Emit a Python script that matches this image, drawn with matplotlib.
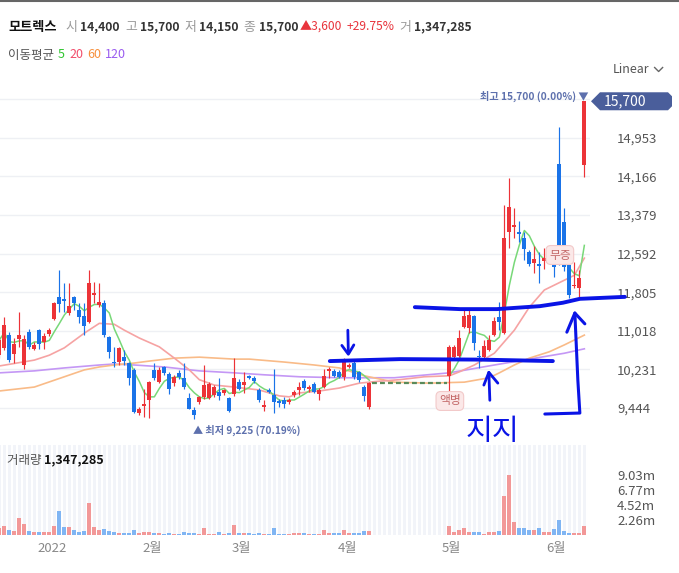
import numpy as np
import pandas as pd
import matplotlib
matplotlib.use("Agg")
import matplotlib.pyplot as plt
from matplotlib.patches import Polygon
from matplotlib.lines import Line2D
from matplotlib.transforms import IdentityTransform

plt.rcParams['font.family'] = ['Noto Sans CJK KR', 'DejaVu Sans']

# %% data (daily candles, trading halt in April shown as None)
name = "모트렉스"

opens = [10520, 10670, 10930, 10540, 10850, 10320, 10990, 10650, 11030, 10790,
         10950, 11260, 11700, 11660, 11380, 11700, 11440, 11320, 11200, 11740,
         11540, 11580, 10890, 10380, 10380, 10480, 10360, 10220, 9340, 9490,
         9610, 10220, 9970, 10280, 10140, 9950, 10160, 10060, 9650, 9410,
         9570, 9670, 9650, 9710, 9770, 9750, 9650, 9730, 9970, 9910,
         10100, 10060, 9810, 9470, 9810, 9710, 9590, 9610, 9570, 9710,
         9810, 9990, 9830, 9930, 9730, 9870, 10200, 10200, 10180, 10080,
         10280, 10360, 10180, 9870, 9470] + [None] * 15 + [
         10100, 10480, 10500, 11090, 11070, 11320, 10500, 10480, 10630, 10930,
         11300, 10970, 13030, 13130, 13030, 12920, 12620, 12400, 12380, 12440,
         12500, 12350, 14430, 13230, 12350, 11930, 11890, 14400]
highs = [10890, 11300, 10990, 10870, 11400, 10930, 11050, 10790, 11050, 10970,
         11070, 11600, 12250, 11990, 11990, 11720, 11580, 11580, 12250, 12010,
         11990, 11640, 10910, 10690, 10690, 10630, 10380, 10260, 9470, 9830,
         9990, 10360, 10280, 10300, 10180, 10120, 10220, 10360, 9750, 9470,
         9690, 10320, 9970, 9910, 10060, 9830, 9670, 10460, 10030, 10180,
         10120, 10100, 9850, 9610, 9850, 10240, 9630, 9670, 9650, 9810,
         9970, 10030, 9910, 9970, 9850, 10240, 10280, 10240, 10220, 10460,
         10360, 10400, 10200, 9910, 9970] + [None] * 15 + [
         10730, 10730, 11030, 11440, 11440, 11340, 10630, 10830, 10930, 11300,
         11600, 13580, 14140, 13530, 13250, 13030, 12660, 12740, 12620, 12700,
         12580, 12380, 15180, 13530, 12380, 12420, 12250, 15700]
lows = [10460, 10630, 10380, 10360, 10690, 10240, 10650, 10630, 10650, 10650,
        10910, 11240, 11400, 11400, 11340, 11440, 11170, 10930, 11170, 11580,
        11500, 10890, 10460, 10280, 10320, 10320, 9910, 9340, 9300, 9260,
        9240, 10010, 9950, 10120, 9730, 9890, 10030, 9830, 9420, 9225,
        9530, 9630, 9630, 9670, 9610, 9710, 9360, 9690, 9810, 9750,
        10030, 9950, 9570, 9390, 9750, 9340, 9470, 9450, 9530, 9670,
        9710, 9810, 9770, 9750, 9610, 9850, 10060, 10080, 10060, 10010,
        10260, 10030, 9970, 9590, 9430] + [None] * 15 + [
        9770, 10460, 10480, 11070, 10970, 10630, 10260, 10440, 10610, 10910,
        11030, 10950, 12700, 12920, 12820, 12460, 12330, 12190, 11990, 12270,
        12460, 12110, 12350, 12230, 11680, 11890, 11700, 14150]
closes = [10830, 11130, 10420, 10750, 10930, 10850, 10690, 10730, 10750, 10910,
          11030, 11580, 11560, 11620, 11520, 11580, 11300, 11110, 11990, 11790,
          11600, 10930, 10590, 10360, 10670, 10400, 10060, 9360, 9430, 9530,
          9970, 10060, 10220, 10160, 9830, 10080, 10080, 9870, 9430, 9300,
          9670, 9910, 9930, 9870, 9690, 9810, 9390, 10060, 9830, 9970,
          10060, 9990, 9610, 9510, 9770, 9570, 9550, 9530, 9610, 9770,
          9870, 9850, 9870, 9770, 9810, 10100, 10240, 10100, 10080, 10400,
          10320, 10080, 10010, 9690, 9950] + [None] * 15 + [
          10690, 10690, 10870, 11320, 11340, 10770, 10480, 10710, 10830, 11220,
          11200, 12920, 13550, 13170, 13000, 12680, 12380, 12480, 12330, 12500,
          12540, 12310, 12600, 12310, 11740, 11950, 12100, 15700]
# volume in millions of shares
volume_m = [1.0, 1.36, 0.75, 0.6, 2.5, 1.6, 0.6, 0.45, 0.45, 0.45, 0.45,
            1.36, 3.6, 1.15, 1.15, 0.75, 0.5, 0.6, 4.77, 1.15, 0.75,
            0.85, 0.55, 0.4, 0.25, 0.25, 0.25, 0.75, 0.25, 0.4, 0.4,
            0.25, 0.25, 0.15, 0.25, 0.15, 0.15, 0.45, 0.25, 0.25, 0.15,
            1.0, 0.15, 0.1, 0.4, 0.15, 0.25, 1.45, 0.25, 0.25, 0.25,
            0.15, 0.25, 0.15, 0.15, 1.0, 0.1, 0.1, 0.1, 0.25, 0.25,
            0.25, 0.15, 0.15, 0.15, 0.75, 0.25, 0.25, 0.25, 0.75, 0.25,
            0.25, 0.25, 0.6, 0.6] + [None] * 15 + [
            1.36, 0.45, 0.75, 1.0, 0.45, 0.45, 0.45, 0.15, 0.45, 0.45,
            0.6, 5.88, 9.03, 1.96, 1.0, 1.0, 0.75, 0.75, 1.0, 0.45,
            0.45, 0.9, 2.26, 0.6, 0.25, 0.25, 0.25, 1.347285]

# moving averages (index, price)
ma20_idx = [0, 7, 10, 13, 17, 20, 23, 25, 28, 32, 35, 38, 40, 43, 47, 52, 56, 58,
            60, 64, 68, 72, 76, 80, 85, 90, 92, 95, 99, 103, 106, 109, 113, 115, 117]
ma20_val = [10300, 10420, 10520, 10670, 10970, 11170, 11150, 11030, 10870, 10690,
            10460, 10220, 10020, 9910, 9870, 9810, 9690, 9670, 9750, 9790, 9850,
            9950, 9990, 10020, 10080, 10100, 10180, 10320, 10560, 11030, 11500,
            11850, 12050, 12150, 12500]
ma60_idx = [0, 7, 13, 17, 20, 23, 27, 30, 35, 40, 47, 50, 57, 63, 68, 73, 79, 86,
            93, 98, 100, 103, 106, 110, 113, 117]
ma60_val = [9790, 9870, 10080, 10220, 10280, 10320, 10360, 10400, 10460, 10480,
            10440, 10440, 10380, 10320, 10260, 10100, 9970, 9950, 9970, 10060,
            10160, 10320, 10460, 10590, 10730, 10930]
ma120_idx = [0, 7, 13, 20, 23, 27, 33, 40, 47, 53, 60, 68, 79, 90, 99, 106, 113, 117]
ma120_val = [10160, 10200, 10260, 10320, 10340, 10320, 10280, 10200, 10160, 10120,
             10080, 10060, 10060, 10160, 10320, 10440, 10560, 10650]

month_labels = ["2022", "2월", "3월", "4월", "5월", "6월"]
month_pos = [10.5, 30.5, 48.5, 69.6, 90.5, 111.3]
price_ticks = [9444, 10231, 11018, 11805, 12592, 13379, 14166, 14953]
vol_ticks = [2.26, 4.52, 6.77, 9.03]

# %% styles
W, H = 679, 573
RED, BLUE = "#ec3338", "#1a73e8"
VRED, VBLUE = "#f29898", "#80b5f3"
PEN = "#0a14e6"

o = np.array(opens, dtype=float)
h = np.array(highs, dtype=float)
l = np.array(lows, dtype=float)
c = np.array(closes, dtype=float)
v = np.array(volume_m, dtype=float) * 1e6
idx = np.arange(len(c))
traded = ~np.isnan(c)
up = c >= o

fig = plt.figure(figsize=(W / 100, H / 100), dpi=100)
fig.patch.set_facecolor("white")
ax = fig.add_axes([0, 1 - 440 / H, 590 / W, 355 / H])
vax = fig.add_axes([0, 1 - 535 / H, 590 / W, 90 / H])
xlim = (0.134, 118.13)

# %% price panel
ti = idx[traded]
col = np.where(up, RED, BLUE)[traded]
ax.vlines(ti, l[traded], h[traded], colors=col, lw=0.85, zorder=3)
bot = np.minimum(o, c)[traded]
hgt = np.maximum(np.abs(c - o)[traded], 25)
ax.bar(ti, hgt, bottom=bot, width=0.76, color=col, linewidth=0, zorder=4)

cf = pd.Series(c).ffill()
ma5 = cf.rolling(5, min_periods=1).mean().to_numpy()
ma5[~traded] = np.nan
ax.plot(ma120_idx, ma120_val, color="#c497f5", lw=1.2, zorder=2)
ax.plot(ma60_idx, ma60_val, color="#f9bb88", lw=1.2, zorder=2)
ax.plot(ma20_idx, ma20_val, color="#f6a3a3", lw=1.2, zorder=2)
ax.plot(idx, ma5, color="#78d878", lw=1.1, zorder=2)
halt = idx[~traded]
ax.hlines(cf[halt[0]], halt[0] - 0.5, halt[-1] + 0.5, colors="#5a8a5a",
          linestyles=(0, (2.2, 1.4)), lw=1.6, zorder=3)

ax.set_xlim(*xlim)
ax.set_ylim(8790, 16032)
ax.set_yticks(price_ticks + [15740], labels=[f"{t:,}" for t in price_ticks] + [""])
ax.yaxis.tick_right()
ax.tick_params(axis="y", length=0, pad=19.5, labelsize=9.5, labelcolor="#555")
ax.set_xticks([])
ax.grid(axis="y", color="#eef0f4", lw=1)
ax.set_axisbelow(True)
for s in ax.spines.values():
    s.set_visible(False)
ax.set_facecolor("none")

# high / low markers
imax = int(np.nanargmax(h))
imin = int(np.nanargmin(l))
ax.text(117.9, 15807, f"최고 {h[imax]:,.0f} ({(h[imax] - c[-1]) / c[-1] * 100:.2f}%) ▼",
        ha="right", va="center", fontsize=7.3, color="#5d70ad", fontweight="bold")
ax.text(imin - 0.3, 8994, f"▲ 최저 {l[imin]:,.0f} ({(c[-1] - l[imin]) / l[imin] * 100:.2f}%)",
        ha="left", va="center", fontsize=7.3, color="#5d70ad", fontweight="bold")

badge = dict(boxstyle="round,pad=0.25,rounding_size=0.4", fc="#fbe8e8", ec="#f2c9c9", lw=0.8)
ax.text(112.1, 12564, "무증", ha="center", va="center", fontsize=8.5, color="#c46a6a", bbox=badge, zorder=6)
ax.text(90.1, 9586, "액병", ha="center", va="center", fontsize=8.5, color="#c46a6a", bbox=badge, zorder=6)

# hand drawn annotations
def pen(xs, ys, lw=2.6):
    ax.plot(xs, ys, color=PEN, lw=lw, solid_capstyle="round",
            solid_joinstyle="round", clip_on=False, zorder=9)

pen([83.1, 92.1, 99.5, 108.1, 112.7, 116.1, 125.1],
    [11500, 11460, 11460, 11520, 11590, 11670, 11710], lw=2.8)
pen([66.1, 80.1, 96.1, 110.7], [10400, 10440, 10430, 10400], lw=2.8)
pen([69.7, 69.8], [11030, 10570], lw=2.0)
pen([68.5, 69.8, 70.9], [10720, 10540, 10730], lw=2.0)
pen([98.1, 97.9], [9600, 10170], lw=2.0)
pen([96.9, 97.9, 99.7], [9910, 10170, 9950], lw=2.0)
pen([109.1, 116.1, 115.7, 115.1], [9320, 9340, 10010, 11380], lw=2.2)
pen([113.5, 115.1, 117.1], [10990, 11380, 11160], lw=2.2)
ax.text(98.7, 8960, "지지", ha="center", va="center", fontsize=21, color=PEN, zorder=9)

# last price badge
yd = ax.transData.transform((0, c[-1]))[1]
pts = [(591, yd), (600, yd + 9), (668, yd + 9), (672, yd + 5), (672, yd - 5),
       (668, yd - 9), (600, yd - 9)]
fig.add_artist(Polygon(pts, closed=True, transform=IdentityTransform(),
                       facecolor="#4a5e9b", edgecolor="none"))
fig.text(604 / W, yd / H, f"{c[-1]:,.0f}", color="white", fontsize=10, va="center", ha="left")

# %% volume panel
vax.bar(idx, np.full(len(idx), 13.47e6), width=0.72, color="#f2f4f9", linewidth=0, zorder=0)
vcol = np.where(up, VRED, VBLUE)[traded]
vax.bar(ti, v[traded], width=0.76, color=vcol, linewidth=0, zorder=2)
vax.set_xlim(*xlim)
vax.set_ylim(0, 13.47e6)
vax.set_yticks([t * 1e6 for t in vol_ticks], labels=[f"{t:.2f}m" for t in vol_ticks])
vax.yaxis.tick_right()
vax.tick_params(axis="y", length=0, pad=19.5, labelsize=9.5, labelcolor="#555")
vax.set_xticks(month_pos, labels=month_labels)
vax.tick_params(axis="x", length=0, pad=5, labelsize=9.5, labelcolor="#888")
for s in vax.spines.values():
    s.set_visible(False)
vax.text(0.012, 0.83, "거래량 ", transform=vax.transAxes, fontsize=9, color="#555", va="center")
renderer = fig.canvas.get_renderer()

# %% header rows
def row(parts, x, y):
    for s, color, weight, size, gap in parts:
        t = fig.text(x / W, 1 - y / H, s, color=color, fontweight=weight,
                     fontsize=size, va="center", ha="left")
        x += t.get_window_extent(renderer).width + gap
    return x

GREY, DARK = "#9a9a9a", "#333333"
chg = c[-1] - c[-2]
row([(name, "#111", "bold", 9.5, 9),
     ("시", GREY, "normal", 9.3, 3), (f"{o[-1]:,.0f}", DARK, "bold", 8.7, 5),
     ("고", GREY, "normal", 9.3, 3), (f"{h[-1]:,.0f}", DARK, "bold", 8.7, 5),
     ("저", GREY, "normal", 9.3, 3), (f"{l[-1]:,.0f}", DARK, "bold", 8.7, 5),
     ("종", GREY, "normal", 9.3, 3), (f"{c[-1]:,.0f}", DARK, "bold", 8.7, 2),
     (f"▲{chg:,.0f}", "#e8343c", "normal", 8.7, 4),
     (f"+{chg / c[-2] * 100:.2f}%", "#e8343c", "normal", 8.7, 5),
     ("거", GREY, "normal", 9.3, 3), (f"{v[-1]:,.0f}", DARK, "bold", 8.7, 0)], 8, 27)
row([("이동평균", "#555", "normal", 9, 4), ("5", "#2fc52f", "normal", 9, 4),
     ("20", "#f24d6b", "normal", 9, 4), ("60", "#f7903c", "normal", 9, 4),
     ("120", "#9a5cf0", "normal", 9, 0)], 8, 55)

t = vax.texts[0]
x0 = t.get_window_extent(renderer).x1
fig.text(x0 / W, t.get_window_extent(renderer).y0 / H + 0.001, f"{v[-1]:,.0f}",
         fontsize=9, color="#111", fontweight="bold", va="bottom")

xe = row([("Linear", "#555", "normal", 9, 0)], 613, 70)
fig.add_artist(Line2D([(xe + 5) / W, (xe + 9) / W, (xe + 13) / W],
                      [1 - 67.5 / H, 1 - 71.5 / H, 1 - 67.5 / H], color="#666", lw=1))
fig.add_artist(Line2D([0, 1], [1 - 1 / H, 1 - 1 / H], color="#666", lw=1.5))

fig.savefig("out.png", dpi=100)
